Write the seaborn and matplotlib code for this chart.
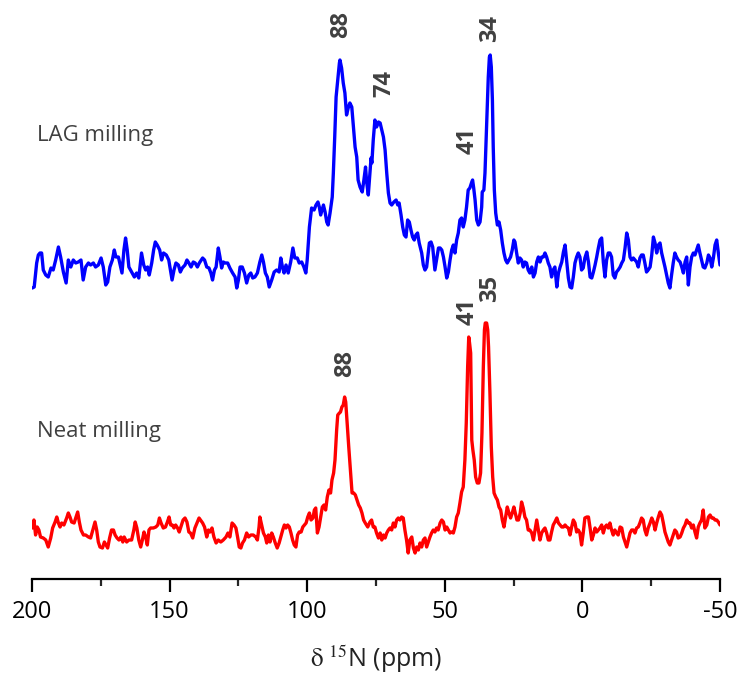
import numpy as np
import pandas as pd
import seaborn as sns
import matplotlib.pyplot as plt

# 15N CP-MAS spectra, chemical shift (ppm) vs intensity (arb. units, baseline ~0)
lag_ppm = [
    199.9, 199.2, 198.3, 197.7, 197.1, 196.5, 195.9, 195.0, 194.1, 193.1, 192.3, 191.4, 190.4, 189.6,
    188.6, 187.6, 186.8, 185.9, 185.0, 184.1, 183.2, 182.2, 181.4, 180.5, 179.5, 178.7, 177.7, 176.9,
    175.9, 174.9, 174.1, 173.2, 172.5, 171.7, 170.8, 170.1, 169.5, 168.6, 167.8, 167.3, 166.6, 166.0,
    165.4, 164.8, 163.8, 162.8, 162.0, 161.2, 160.5, 160.2, 159.4, 158.7, 158.0, 157.4, 156.5, 155.8,
    155.2, 154.5, 153.6, 152.9, 152.2, 151.2, 150.3, 149.7, 149.1, 148.4, 147.7, 146.8, 146.1, 145.4,
    144.4, 143.7, 143.0, 142.2, 141.4, 140.7, 139.9, 139.2,
    138.0, 137.3, 136.5, 135.7, 135.0, 134.4, 133.7, 133.1, 132.3, 131.7, 131.1, 130.5, 129.8, 128.9,
    128.1, 127.1, 126.2, 125.6, 125.0, 124.4, 123.6, 122.8, 122.0, 121.2, 120.5, 119.8, 119.0, 118.1,
    117.2, 116.5, 115.9, 115.2, 114.5, 113.8, 112.9, 112.0, 111.1, 110.2, 109.6, 109.0, 108.4, 107.7,
    106.9, 106.0, 105.2, 104.5, 103.6, 102.9, 102.0, 101.2, 100.5, 100.0, 99.2, 98.4, 97.5, 96.8,
    96.1, 95.6, 95.1, 94.6, 94.1, 93.5, 92.9, 92.4, 91.7, 90.9, 90.5, 90.0, 89.5, 88.9, 88.3, 88.1,
    87.5, 86.9, 86.3, 85.7, 85.1, 84.5, 83.8, 83.2, 82.6, 82.0, 81.5, 80.8, 80.0, 79.4, 78.8, 78.4,
    77.8, 77.2, 76.8, 76.5, 76.0,
    75.4, 74.8, 74.1, 73.5, 72.9, 72.3, 71.7, 71.1, 70.5, 69.9, 69.3, 68.5, 67.7, 67.1, 66.6, 65.9,
    65.3, 64.7, 64.1, 63.5, 62.9, 62.3, 61.7, 61.1, 60.5, 59.9, 59.3, 58.4, 57.8, 57.2, 56.6, 56.0,
    55.6, 55.0, 54.4, 54.0, 53.6, 53.0, 52.3, 51.7, 51.1, 50.5, 49.9, 49.3, 48.7, 48.1, 47.5, 46.9,
    46.3, 45.7, 45.1, 44.5, 43.9, 43.3, 42.7, 42.1, 41.5, 40.9, 40.2, 39.9, 39.5, 39.0, 38.4, 37.8,
    37.2, 36.6, 36.4, 35.8, 35.4, 35.0, 34.6, 34.2, 33.8, 33.5, 33.1, 32.7, 32.4, 32.0, 31.5, 30.9,
    30.3, 29.7, 29.1, 28.5, 27.9, 27.3, 26.7, 26.1, 25.5, 24.9, 24.5, 23.9, 23.3, 22.7, 22.1, 21.5,
    20.9, 20.3, 19.7, 19.1, 18.4, 17.8, 17.2, 16.6, 16.0, 15.4, 14.8, 14.2, 13.6, 13.0, 12.4,
    11.8, 11.2, 10.6, 10.0, 9.3, 8.7, 8.1, 7.5, 6.9, 6.3, 5.7, 5.1, 4.5, 3.9, 3.3, 2.7, 2.1, 1.5,
    0.9, 0.3, -0.3, -0.9, -1.6, -2.2, -2.8, -3.4, -4.0, -4.6, -5.2, -5.8, -6.4, -7.0, -7.6, -8.2,
    -8.8, -9.4, -10.0, -10.6, -11.2, -11.8, -12.4, -13.0, -13.7, -14.3, -14.9, -15.5, -16.1, -16.7,
    -17.3, -17.9, -18.5, -19.1, -19.7, -20.3, -20.9, -21.5, -22.1, -22.7, -23.3, -23.9, -24.6,
    -25.2, -25.8, -26.4, -27.0, -27.6, -28.2, -28.8, -29.4, -30.0, -30.6, -31.2, -31.8, -32.4,
    -33.0, -33.6, -34.2, -34.8, -35.5, -36.1, -36.7, -37.3, -37.9, -38.5, -39.1, -39.7, -40.3,
    -40.9, -41.5, -42.1, -42.7, -43.3, -43.9, -44.5, -45.2, -45.8, -46.4, -47.0, -47.6, -48.2,
    -48.8, -49.4, -50.0,
]
lag_int = [
    -23, -22, 2, 10, 12, 12, -5, -10, -12, -3, -5, 5, 18, 8,
    -7, -18, 5, -2, 5, 2, 3, 5, -15, -2, 2, 0, 2, -2,
    0, 7, -2, -20, -17, -2, 5, 15, 8, 8, -2, -8, 15, 27,
    15, -2, -7, -12, -8, -13, 5, 12, 0, -5, -2, -10, 2, 15,
    23, 20, 15, 5, 12, 10, 5, -5, -15, -5, 2, 0, -7, -3,
    0, 5, 2, -2, 3, 2, -2, 2,
    7, 5, -2, -3, -8, -15, -5, -2, 17, 8, -3, 3, 2, 2,
    -3, -8, -12, -23, -15, -2, -2, -8, -18, -10, -8, -13, -12, -8,
    3, 10, 3, -8, -12, -22, -15, -7, -5, -7, 7, -2, -8, 0,
    -8, 3, 17, 7, 7, 2, 3, -2, -8, 5, 38, 57, 55, 60,
    63, 58, 50, 55, 60, 53, 43, 40, 52, 68, 92, 128, 168, 185, 202, 205,
    197, 182, 172, 150, 157, 162, 158, 138, 118, 108, 85, 78, 73, 85, 98, 83,
    70, 92, 107, 102, 125,
    145, 138, 143, 142, 135, 128, 115, 92, 72, 62, 60, 63, 65, 60, 62, 50,
    38, 30, 28, 45, 43, 35, 28, 25, 30, 32, 22, 12, 0, -5, -2, 12,
    22, 23, 18, 7, -5, 5, 17, 17, 15, 8, -2, -13, -7, 5, 15, 20,
    12, 25, 32, 45, 47, 38, 45, 58, 75, 77, 83, 85, 77, 65, 45, 40,
    43, 58, 73, 75, 92, 125, 158, 188, 208, 210, 198, 165, 118, 75, 52, 40,
    43, 35, 22, 12, 5, 2, 5, 8, 15, 25, 23, 12, 2, 7, 5, -2,
    3, 2, -5, -8, -2, -12, -8, 3, 8, 3, 8, 8, 12, 8, 2,
    -2, -12, -5, -2, -22, -8, -2, 3, 13, 20, 3, -13, -22, -23, -12, 2, 8, 12,
    8, -5, -3, 7, 13, 3, -12, -13, -7, 0, 8, 17, 25, 27, 3, -12,
    5, 12, 12, 8, -10, -13, -7, -5, -2, 2, 5, 17, 32, 25,
    8, 5, 7, 5, 3, -2, 7, 10, 10, 2, -7, -5, -2,
    10, 28, 22, 12, 20, 22, 12, 5, -2, -10, -18, -23, -10,
    2, 12, 8, 5, 3, -2, -8, 3, 8, -20, -2, 8, 12,
    10, 15, 20, 12, 5, -2, -3, 2, 10, 7, -2, 7, 20,
    25, 12, 0,
]

neat_ppm = [
    199.9, 199.3, 198.7, 198.1, 197.5, 196.9, 195.9, 195.0, 194.1, 193.2, 192.5, 191.6, 191.0, 190.4,
    189.8, 189.2, 188.4, 187.4, 186.8, 186.2, 185.6, 184.7, 184.1, 183.4, 182.8, 182.2, 181.3, 180.5,
    179.5, 178.7, 177.7, 177.1, 176.5, 175.9, 175.3, 174.4, 173.7, 173.1, 172.5, 171.8, 171.1, 170.4,
    169.8, 169.1, 168.4, 167.7, 167.0, 166.5, 165.6, 164.8, 163.8, 163.0, 162.5, 161.9, 161.2, 160.5,
    159.9, 159.3, 158.7, 158.1, 157.5, 156.9, 155.9, 155.0, 154.3, 153.7, 153.1, 152.3, 151.5, 150.8,
    150.2, 149.6, 149.0, 148.4, 147.8, 147.1, 146.5, 145.9, 145.1, 144.4, 143.7, 143.0, 142.4, 141.6,
    140.8, 139.9, 139.3,
    138.0, 137.3, 136.5, 135.9, 135.3, 134.6, 133.9, 133.1, 132.3, 131.4, 130.5, 129.5, 128.8, 128.1,
    127.3, 126.6, 125.9, 125.3, 124.7, 124.1, 123.5, 122.8, 122.0, 121.3, 120.5, 119.6, 118.7, 118.1,
    117.5, 117.2, 116.7, 115.9, 115.2, 114.7, 114.1, 113.5, 112.9, 112.3, 111.6, 110.9, 110.2, 109.6,
    108.9, 108.3, 107.7, 107.1, 106.5, 105.9, 105.3, 104.7, 104.1, 103.5, 102.9, 102.2, 101.6, 101.0,
    100.4, 99.8, 99.2, 98.6, 97.9, 97.4, 96.9, 96.3, 95.7, 95.1, 94.5, 93.9, 93.3, 92.7, 92.1, 91.5,
    91.0, 90.4, 89.9, 89.3, 88.9, 88.3, 87.9, 87.4, 86.9, 86.4, 86.0, 85.5, 84.9, 84.3, 83.7, 83.1,
    82.5, 81.9, 81.3, 80.7, 80.1, 79.5, 78.9, 78.0, 77.2, 76.6, 76.0,
    75.4, 74.8, 74.1, 73.5, 72.9, 72.3, 71.7, 71.1, 70.5, 69.9, 69.3, 68.7, 68.1, 67.5, 66.9, 66.3,
    65.7, 65.1, 64.5, 63.9, 63.3, 62.7, 62.0, 61.4, 60.8, 60.2, 59.6, 59.0, 58.4, 57.8, 57.2, 56.6,
    56.0, 55.4, 54.8, 54.2, 53.6, 53.0, 52.4, 51.7, 51.1, 50.5, 49.9, 49.3, 48.7, 48.1, 47.5, 46.9,
    46.3, 45.7, 45.1, 44.5, 43.9, 43.3, 42.7, 42.2, 41.7, 41.3, 41.0, 40.6, 40.2, 39.8, 39.3, 38.8,
    38.2, 37.6, 37.0, 36.5, 36.0, 35.6, 35.3, 34.8, 34.4, 34.1, 33.6, 33.1, 32.6, 32.1, 31.5, 30.9,
    30.3, 29.7, 29.1, 28.5, 27.9, 27.3, 26.7, 26.1, 25.5, 24.9, 24.4, 23.8, 23.2, 22.6, 22.1, 21.5,
    20.9, 20.3, 19.7, 19.1, 18.4, 17.8, 17.2, 16.6, 16.0, 15.4, 14.8, 14.2, 13.6, 13.0, 12.4,
    11.8, 11.2, 10.6, 10.0, 9.3, 8.7, 8.1, 7.5, 6.9, 6.3, 5.7, 5.1, 4.5, 3.9, 3.3, 2.7, 2.1, 1.5,
    0.9, 0.3, -0.3, -0.9, -1.6, -2.2, -2.8, -3.4, -4.0, -4.6, -5.2, -5.8, -6.4, -7.0, -7.6, -8.2,
    -8.8, -9.4, -10.0, -10.6, -11.2, -11.8, -12.4, -13.0, -13.7, -14.3, -14.9, -15.5, -16.1, -16.7,
    -17.3, -17.9, -18.5, -19.1, -19.7, -20.3, -20.9, -21.5, -22.1, -22.7, -23.3, -23.9, -24.6,
    -25.2, -25.8, -26.4, -27.0, -27.6, -28.2, -28.8, -29.4, -30.0, -30.6, -31.2, -31.8, -32.4,
    -33.0, -33.6, -34.2, -34.8, -35.5, -36.1, -36.7, -37.3, -37.9, -38.5, -39.1, -39.7, -40.3,
    -40.9, -41.5, -42.1, -42.7, -43.3, -43.9, -44.5, -45.2, -45.8, -46.4, -47.0, -47.6, -48.2,
    -48.8, -49.4, -50.0,
]
neat_int = [
    0, 8, -7, 1, -2, -9, -10, -12, -19, -10, 0, 6, 11, 5,
    1, 5, 3, 10, 15, 11, 6, 5, 10, 16, 6, -2, -7, -7,
    -9, -10, 0, 6, -2, -14, -19, -20, -14, -17, -20, -10, -2, -2,
    -7, -10, -12, -9, -14, -9, -14, -12, -12, -2, 6, 0, -12, -19,
    -12, -4, -9, -17, -2, 0, 0, 1, 3, 10, 5, 0, 1, 6,
    11, 3, 3, 0, 3, 0, -4, 1, 8, 10, 6, -4, -5, -10,
    0, 6, 10,
    5, 1, -9, -2, -4, 0, -9, -15, -12, -14, -12, -9, -5, -9,
    5, 3, 0, -9, -19, -20, -15, -12, -5, -9, -7, -7, -9, -12,
    1, 11, 5, -5, -9, -15, -7, -14, -5, -9, -15, -20, -15, -9,
    -2, 3, 0, 3, 1, -5, -12, -17, -19, -7, -4, -4, 1, 3,
    5, 11, 15, 8, 10, 18, 20, -5, 1, 11, 21, 23, 18, 31, 38, 35,
    48, 55, 68, 98, 113, 115, 116, 121, 123, 131, 126, 105, 81, 58, 35, 35,
    33, 28, 23, 20, 15, 8, 5, 1, 6, 8, 1,
    1, -5, -10, -5, -12, -7, -10, -5, -2, 0, -2, 5, 1, 8, 10, 8,
    11, 10, -2, -12, -25, -12, -9, -20, -25, -19, -22, -15, -19, -12, -10, -19,
    -14, -9, -5, -2, -4, 0, -2, 5, 8, 6, -2, 1, -2, -5, -4, -5,
    1, 11, 15, 25, 36, 41, 68, 105, 161, 191, 185, 175, 88, 78, 68, 51,
    45, 45, 55, 95, 161, 198, 205, 205, 198, 181, 135, 81, 51, 35, 31, 28,
    21, 18, 8, 1, 11, 21, 15, 10, 15, 21, 15, 8, 8, 15, 26, 20,
    11, 8, -2, -2, -5, -12, -2, 8, -2, -12, -5, -2, 0, -5, -12,
    -12, -4, 3, 6, 10, 5, 3, 1, 1, 3, 1, 0, -7, 1, 8, 5, -4, -2,
    -5, -17, -5, 10, 11, 11, 0, -12, -7, 0, -4, -2, 0, 3, -5, 1,
    3, 0, 5, -2, -7, -2, -5, -7, 1, 0, -9, -14, -19, -12,
    -5, -2, -2, -5, 0, 1, 5, 10, 8, -2, -7, 0, 5,
    10, 6, -2, 5, 11, 16, 13, 5, -4, -9, -14, -17, -12,
    -7, -2, -4, -10, -9, -5, 0, 3, 8, 5, 5, 0, 3,
    -4, -10, 1, 5, 8, 18, 0, 3, 11, 13, 10, 10, 8,
    8, 6, 3,
]

# peak labels: (shift, text, label base height)
lag_labels = [(87.8, "88", 541), (71.9, "74", 482), (41.7, "41", 425), (33.4, "34", 537)]
neat_labels = [(86.3, "88", 202), (41.7, "41", 254), (33.4, "35", 277)]

sns.set_style("ticks")
plt.rcParams["font.family"] = ["Open Sans", "DejaVu Sans"]
plt.rcParams["mathtext.fontset"] = "stix"

lag = pd.DataFrame({"ppm": lag_ppm, "intensity": lag_int})
neat = pd.DataFrame({"ppm": neat_ppm, "intensity": neat_int})
lag["y"] = lag["intensity"] + 314
neat["y"] = neat["intensity"] + 51

fig = plt.figure(figsize=(7.4, 6.75), dpi=100)
ax = fig.add_axes([32 / 740, 96 / 675, 688 / 740, 579 / 675])

sns.lineplot(data=lag, x="ppm", y="y", color="#0000ff", lw=2.4, estimator=None, sort=False, ax=ax)
sns.lineplot(data=neat, x="ppm", y="y", color="#ff0000", lw=2.4, estimator=None, sort=False, ax=ax)

ax.set_xlim(200, -50)
ax.set_ylim(0, 579)
sns.despine(ax=ax, left=True)
ax.set_yticks([])
ax.set_ylabel("")
ax.set_xticks([200, 150, 100, 50, 0, -50])
ax.set_xticklabels(["200", "150", "100", "50", "0", "-50"])
ax.set_xticks([175, 125, 75, 25, -25], minor=True)
ax.tick_params(axis="x", which="major", length=9, width=1.6, labelsize=17, pad=6, colors="black")
ax.tick_params(axis="x", which="minor", length=5, width=1.6)
ax.spines["bottom"].set_linewidth(1.6)
ax.spines["bottom"].set_color("black")
ax.set_xlabel(r"$\mathrm{\delta}\ ^{15}$N (ppm)", fontsize=18, labelpad=14, color="#222222")

txt_color = "#404040"
for x, t, y in lag_labels + neat_labels:
    ax.text(x, y, t, rotation=90, ha="center", va="bottom", fontsize=17,
            fontweight="bold", color=txt_color)

ax.text(198.2, 443, "LAG milling", ha="left", va="center", fontsize=16, color=txt_color)
ax.text(198.2, 147, "Neat milling", ha="left", va="center", fontsize=16, color=txt_color)

fig.savefig("out.png", dpi=100)
